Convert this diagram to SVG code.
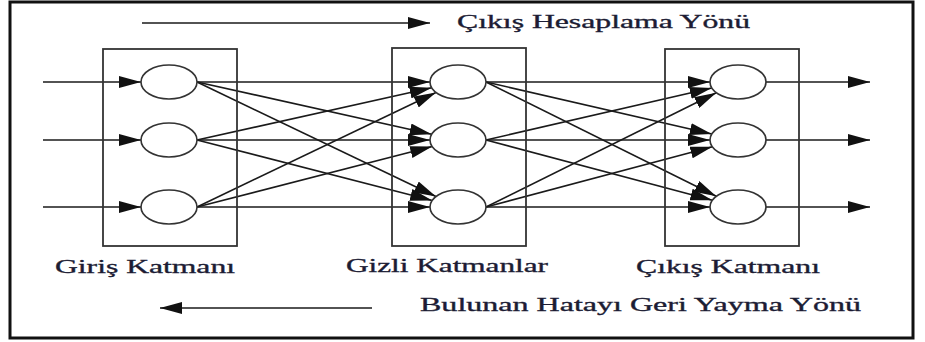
<svg xmlns="http://www.w3.org/2000/svg" width="925" height="342" viewBox="0 0 925 342">
  <style>
    .frame { fill: none; stroke: #111; stroke-width: 3; }
    .layer { fill: none; stroke: #333; stroke-width: 1.8; }
    .neuron { fill: #fff; stroke: #333; stroke-width: 1.6; }
    .link { fill: none; stroke: #1a1a1a; stroke-width: 1.6; marker-end: url(#head); }
    .lbl { font-family: "Liberation Serif", "Times New Roman", serif; font-size: 19.5px; fill: #1c1c34; stroke: #1c1c34; stroke-width: 0.35; }
  </style>
  <defs>
    <marker id="head" markerUnits="userSpaceOnUse" markerWidth="22" markerHeight="12" refX="22" refY="6" orient="auto">
      <path d="M0,0 L22,6 L0,12 Z" fill="#111"/>
    </marker>
  </defs>

  <rect class="frame" x="10" y="2" width="903" height="336"/>

  <!-- direction of forward computation -->
  <g id="forward-direction">
    <line class="link" x1="142" y1="23" x2="430" y2="23"/>
    <text class="lbl" x="457" y="28" textLength="293" lengthAdjust="spacingAndGlyphs">Çıkış Hesaplama Yönü</text>
  </g>

  <!-- direction of error back-propagation -->
  <g id="backward-direction">
    <line class="link" x1="372" y1="308" x2="160" y2="308"/>
    <text class="lbl" x="420" y="311" textLength="441" lengthAdjust="spacingAndGlyphs">Bulunan Hatayı Geri Yayma Yönü</text>
  </g>

  <g id="connectors">
    <!-- inputs -->
    <line class="link" x1="43" y1="82" x2="141" y2="82"/>
    <line class="link" x1="43" y1="140" x2="141" y2="140"/>
    <line class="link" x1="43" y1="207" x2="141" y2="207"/>
    <!-- input layer to hidden layer -->
    <line class="link" x1="197" y1="82" x2="430" y2="82"/>
    <line class="link" x1="197" y1="82" x2="431.7" y2="134.2"/>
    <line class="link" x1="197" y1="82" x2="436" y2="196.5"/>
    <line class="link" x1="197" y1="140" x2="431.7" y2="87.8"/>
    <line class="link" x1="197" y1="140" x2="430" y2="140"/>
    <line class="link" x1="197" y1="140" x2="432.2" y2="200.4"/>
    <line class="link" x1="197" y1="207" x2="436" y2="92.5"/>
    <line class="link" x1="197" y1="207" x2="432.2" y2="146.6"/>
    <line class="link" x1="197" y1="207" x2="430" y2="207"/>
    <!-- hidden layer to output layer -->
    <line class="link" x1="486" y1="82" x2="710" y2="82"/>
    <line class="link" x1="486" y1="82" x2="711.8" y2="134"/>
    <line class="link" x1="486" y1="82" x2="716.3" y2="196.2"/>
    <line class="link" x1="486" y1="140" x2="711.8" y2="88"/>
    <line class="link" x1="486" y1="140" x2="710" y2="140"/>
    <line class="link" x1="486" y1="140" x2="712.4" y2="200.2"/>
    <line class="link" x1="486" y1="207" x2="716.3" y2="92.8"/>
    <line class="link" x1="486" y1="207" x2="712.4" y2="146.8"/>
    <line class="link" x1="486" y1="207" x2="710" y2="207"/>
    <!-- outputs -->
    <line class="link" x1="766" y1="82" x2="870" y2="82"/>
    <line class="link" x1="766" y1="140" x2="870" y2="140"/>
    <line class="link" x1="766" y1="207" x2="870" y2="207"/>
  </g>

  <g id="input-layer">
    <rect class="layer" x="103" y="49" width="134" height="197"/>
    <text class="lbl" x="55" y="273" textLength="180" lengthAdjust="spacingAndGlyphs">Giriş Katmanı</text>
  </g>
  <g id="hidden-layer">
    <rect class="layer" x="392" y="48" width="134" height="198"/>
    <text class="lbl" x="346" y="272" textLength="202" lengthAdjust="spacingAndGlyphs">Gizli Katmanlar</text>
  </g>
  <g id="output-layer">
    <rect class="layer" x="665" y="49" width="134" height="197"/>
    <text class="lbl" x="636" y="273" textLength="184" lengthAdjust="spacingAndGlyphs">Çıkış Katmanı</text>
  </g>

  <g id="in-1"><ellipse class="neuron" cx="169" cy="82" rx="28" ry="17"/></g>
  <g id="in-2"><ellipse class="neuron" cx="169" cy="140" rx="28" ry="17"/></g>
  <g id="in-3"><ellipse class="neuron" cx="169" cy="207" rx="28" ry="17"/></g>
  <g id="hid-1"><ellipse class="neuron" cx="458" cy="82" rx="28" ry="17"/></g>
  <g id="hid-2"><ellipse class="neuron" cx="458" cy="140" rx="28" ry="17"/></g>
  <g id="hid-3"><ellipse class="neuron" cx="458" cy="207" rx="28" ry="17"/></g>
  <g id="out-1"><ellipse class="neuron" cx="738" cy="82" rx="28" ry="17"/></g>
  <g id="out-2"><ellipse class="neuron" cx="738" cy="140" rx="28" ry="17"/></g>
  <g id="out-3"><ellipse class="neuron" cx="738" cy="207" rx="28" ry="17"/></g>
</svg>
